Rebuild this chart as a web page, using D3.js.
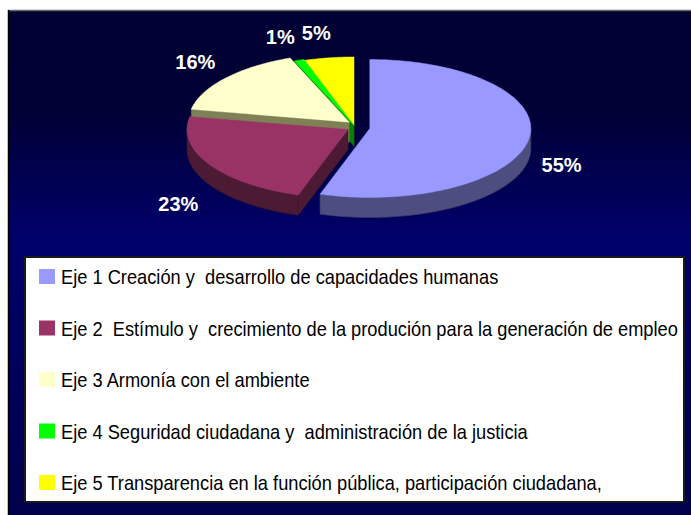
<!DOCTYPE html>
<html>
<head>
<meta charset="utf-8">
<script src="https://cdn.jsdelivr.net/npm/d3@7"></script>
<style>
  body { margin: 0; background: #fff; }
  svg { display: block; }
  .legend-text { white-space: pre; }
</style>
</head>
<body>
<div id="root"></div>
<script>
const categories = [
  "Eje 1 Creación y  desarrollo de capacidades humanas",
  "Eje 2  Estímulo y  crecimiento de la produción para la generación de empleo",
  "Eje 3 Armonía con el ambiente",
  "Eje 4 Seguridad ciudadana y  administración de la justicia",
  "Eje 5 Transparencia en la función pública, participación ciudadana,"
];
const values = [55, 23, 16, 1, 5];
const valueLabels = ["55%", "23%", "16%", "1%", "5%"];
const colors = ["#9999ff", "#993366", "#ffffcc", "#00ff00", "#ffff00"];
const explode = [16, 7, 6, 1, 0];

const outerWidth = 691;
const outerHeight = 515;

// pie geometry (top ellipse + wall height)
const cx = 354, cy = 126;
const rx = 161, ry = 69, depth = 20;

let svg = d3.select("#root")
            .append("svg")
            .attr("width", outerWidth)
            .attr("height", outerHeight);

let defs = svg.append("defs");
let grad = defs.append("linearGradient")
               .attr("id", "bg")
               .attr("x1", 0).attr("y1", 0)
               .attr("x2", 0).attr("y2", 1);
grad.append("stop").attr("offset", "0%").attr("stop-color", "#000033");
grad.append("stop").attr("offset", "20%").attr("stop-color", "#000035");
grad.append("stop").attr("offset", "45%").attr("stop-color", "#00006a");
grad.append("stop").attr("offset", "100%").attr("stop-color", "#00004c");

// panel
svg.append("rect")
    .attr("x", 8).attr("y", 10)
    .attr("width", outerWidth - 8).attr("height", outerHeight - 10)
    .attr("fill", "url(#bg)");
svg.append("line")
    .attr("x1", 8).attr("x2", outerWidth)
    .attr("y1", 10.5).attr("y2", 10.5)
    .attr("stroke", "#6a6a6a").attr("stroke-width", 1.5);
svg.append("line")
    .attr("x1", 8.5).attr("x2", 8.5)
    .attr("y1", 10).attr("y2", outerHeight)
    .attr("stroke", "#000").attr("stroke-width", 1.5);

// pie
let arcs = d3.pie().sort(null).value(d => d)(values);

let slices = arcs.map((a, i) => {
    let mid = (a.startAngle + a.endAngle) / 2;
    let ax = cx + explode[i] * Math.sin(mid);
    let ay = cy - explode[i] * Math.cos(mid);
    return { i: i, a0: a.startAngle, a1: a.endAngle, mid: mid, ax: ax, ay: ay };
});

function pt(s, t, dz) {
    return [s.ax + rx * Math.sin(t), s.ay - ry * Math.cos(t) + (dz || 0)];
}

function arcPts(s, t0, t1, dz) {
    let n = Math.max(2, Math.ceil((t1 - t0) / 0.02));
    return d3.range(n + 1).map(k => pt(s, t0 + (t1 - t0) * k / n, dz));
}

let line = d3.line();
let pieG = svg.append("g");

let order = slices.slice().sort((p, q) => (-Math.cos(p.mid)) - (-Math.cos(q.mid)));

order.forEach(s => {
    let top = d3.color(colors[s.i]);
    let side = d3.rgb(top.r * 0.5, top.g * 0.5, top.b * 0.5 * (s.i == 2 ? 0.85 : 1));
    let g = pieG.append("g");

    // radial walls
    [[s.a0, s.a0 - Math.PI / 2], [s.a1, s.a1 + Math.PI / 2]].forEach(([t, n]) => {
        if (-Math.cos(n) <= 0.02) { return; }
        let p = pt(s, t);
        let poly = [[s.ax, s.ay], p, [p[0], p[1] + depth], [s.ax, s.ay + depth]];
        g.append("path")
            .attr("d", line(poly) + "Z")
            .attr("fill", side)
            .attr("stroke", side.darker(0.6))
            .attr("stroke-width", 0.6);
    });

    // outer wall (front half only)
    let w0 = Math.max(s.a0, Math.PI / 2), w1 = Math.min(s.a1, 3 * Math.PI / 2);
    if (w1 > w0) {
        let poly = arcPts(s, w0, w1, 0).concat(arcPts(s, w0, w1, depth).reverse());
        g.append("path")
            .attr("d", line(poly) + "Z")
            .attr("fill", side)
            .attr("stroke", side.darker(0.6))
            .attr("stroke-width", 0.6);
    }

    // top face
    let topPoly = [[s.ax, s.ay]].concat(arcPts(s, s.a0, s.a1, 0));
    g.append("path")
        .attr("d", line(topPoly) + "Z")
        .attr("fill", top)
        .attr("stroke", top)
        .attr("stroke-width", 0.5);
});

// percentage labels
function labelX(s) {
    let sn = Math.sin(s.mid);
    return s.ax + rx * sn * (Math.abs(sn) < 0.2 ? 1.5 : 1.08);
}
function labelY(s) {
    let c = -Math.cos(s.mid);
    return s.ay + ry * c * (c > 0 ? 1.55 : 1.36) + (c > 0 ? depth : 0);
}

svg.append("g")
    .selectAll("text")
    .data(slices)
    .enter().append("text")
      .attr("x", labelX)
      .attr("y", labelY)
      .attr("dy", "0.35em")
      .attr("text-anchor", s => {
          let sn = Math.sin(s.mid);
          return Math.abs(sn) < 0.2 ? "middle" : (sn > 0 ? "start" : "end");
      })
      .attr("fill", "#fff")
      .attr("font-family", "'Liberation Sans', Arial, sans-serif")
      .attr("font-weight", "bold")
      .attr("font-size", 20)
      .text(s => valueLabels[s.i]);

// legend
const lg = { x: 25, y: 257, w: 659, h: 245, rowTop: 269, step: 51.5, sw: 16, sh: 15, tx: 61, tw: 617 };

let legend = svg.append("g");
legend.append("rect")
    .attr("x", lg.x).attr("y", lg.y)
    .attr("width", lg.w).attr("height", lg.h)
    .attr("fill", "#fff")
    .attr("stroke", "#1a1a1a").attr("stroke-width", 2);

let item = legend.selectAll(".item")
    .data(categories)
    .enter().append("g")
      .attr("class", "item")
      .attr("transform", (d, i) => `translate(0, ${lg.rowTop + i * lg.step})`);

item.append("rect")
    .attr("x", 39).attr("y", 0)
    .attr("width", lg.sw).attr("height", lg.sh)
    .attr("fill", (d, i) => colors[i]);

let texts = item.append("text")
    .attr("class", "legend-text")
    .attr("x", 0)
    .attr("y", lg.sh)
    .attr("font-family", "'Liberation Sans Narrow', 'Arial Narrow', 'Liberation Sans', Arial, sans-serif")
    .attr("font-size", 20.5)
    .attr("fill", "#000")
    .text(d => d);

let longest = d3.max(texts.nodes(), n => n.getComputedTextLength());
let k = lg.tw / longest;
texts.attr("transform", `translate(${lg.tx}, 0) scale(${k}, 1)`);
</script>
</body>
</html>
